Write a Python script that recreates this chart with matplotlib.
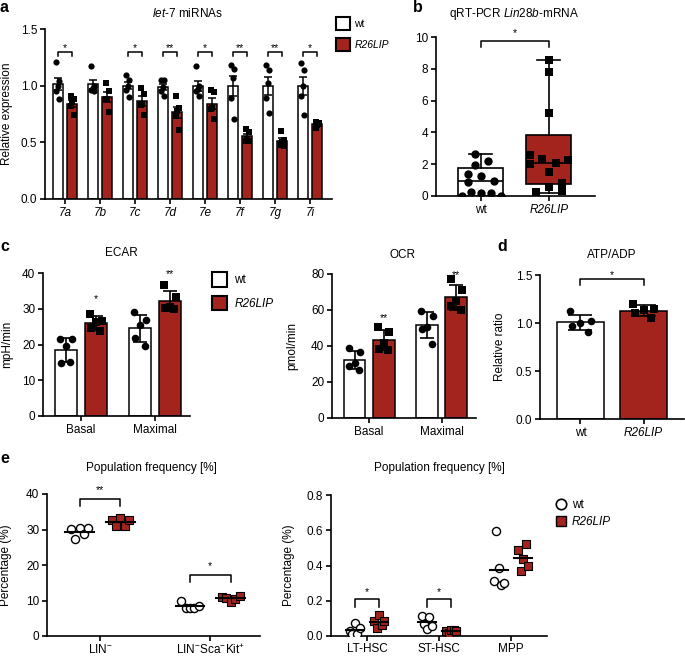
import numpy as np
import matplotlib
matplotlib.use("Agg")
import matplotlib.pyplot as plt
from matplotlib.patches import Patch
from matplotlib.lines import Line2D

plt.rcParams['font.family'] = ['Liberation Sans', 'DejaVu Sans']
plt.rcParams['mathtext.fontset'] = 'custom'
plt.rcParams['mathtext.rm'] = 'Liberation Sans'
plt.rcParams['mathtext.it'] = 'Liberation Sans:italic'
plt.rcParams['font.size'] = 8.5

RED = '#a3231d'
FS = 8.5

# ---- data ----
# a: let-7 miRNAs, relative expression
mirnas = ['7a', '7b', '7c', '7d', '7e', '7f', '7g', '7i']
let7_wt = [[1.21, 1.04, 1.00, 0.95, 0.88],
           [1.17, 1.00, 0.98, 0.96, 0.95],
           [1.09, 1.05, 1.00, 0.96, 0.90],
           [1.05, 1.05, 0.99, 0.95, 0.91],
           [1.17, 1.00, 0.97, 0.95, 0.91],
           [1.18, 1.15, 1.07, 0.89, 0.71],
           [1.18, 1.14, 1.02, 0.89, 0.76],
           [1.20, 1.14, 1.00, 0.91, 0.74]]
let7_lip = [[0.91, 0.88, 0.86, 0.82, 0.74],
            [1.02, 0.95, 0.88, 0.88, 0.77],
            [0.98, 0.93, 0.84, 0.83, 0.74],
            [0.91, 0.80, 0.78, 0.73, 0.61],
            [0.96, 0.94, 0.80, 0.79, 0.71],
            [0.62, 0.59, 0.53, 0.51, 0.51],
            [0.60, 0.52, 0.50, 0.48, 0.47],
            [0.68, 0.66, 0.65, 0.63, 0.67]]
let7_sig = ['*', '', '*', '**', '*', '**', '**', '*']

# b: Lin28b mRNA box plot
box_groups = ['wt', 'R26LIP']
box_lo = [0.0, 0.21]
box_q1 = [0.03, 0.74]
box_med = [0.95, 2.06]
box_q3 = [1.75, 3.84]
box_hi = [2.63, 8.57]
lin28_wt = [2.63, 2.23, 1.93, 1.37, 1.26, 0.97, 0.90, 0.02, 0.23, 0.17, 0.17, 0.02]
lin28_wt_dx = [-0.09, 0.10, -0.09, -0.19, 0.0, 0.19, -0.19, -0.28, -0.15, 0.0, 0.15, 0.29]
lin28_lip = [8.57, 7.77, 5.20, 2.58, 2.02, 2.31, 2.06, 2.27, 1.49, 0.59, 0.84, 0.23, 0.32]
lin28_lip_dx = [0.0, 0.0, 0.0, -0.28, -0.28, -0.10, 0.10, 0.28, 0.0, 0.0, 0.19, -0.19, 0.19]

# c: Seahorse
conditions = ['Basal', 'Maximal']
ecar_wt = [[21.4, 21.4, 19.5, 14.7, 15.2], [29.1, 26.8, 25.4, 21.9, 19.5]]
ecar_lip = [[28.6, 26.6, 26.2, 24.6, 23.7], [36.7, 33.3, 30.6, 30.3, 29.8]]
ecar_sig = ['*', '**']
ocr_wt = [[38.9, 36.5, 30.6, 29.1, 26.9], [59.6, 56.9, 50.4, 49.4, 41.0]]
ocr_lip = [[50.4, 47.6, 41.7, 38.5, 38.0], [77.0, 71.0, 65.0, 62.0, 60.0]]
ocr_sig = ['**', '**']

# d: ATP/ADP
atp_wt = [1.13, 1.02, 1.00, 0.97, 0.91]
atp_lip = [1.20, 1.15, 1.14, 1.10, 1.05]

# e: population frequency
pop_left = ['LIN$^{-}$', 'LIN$^{-}$Sca$^{-}$Kit$^{+}$']
pop_left_wt = [[30.1, 27.3, 30.3, 28.7, 30.3], [9.9, 7.9, 7.9, 7.9, 8.5]]
pop_left_lip = [[32.6, 30.9, 33.3, 30.9, 32.7], [11.1, 10.8, 9.7, 10.5, 11.3]]
pop_left_sig = ['**', '*']
pop_right = ['LT-HSC', 'ST-HSC', 'MPP']
pop_right_wt = [[0.028, 0.012, 0.074, 0.009, 0.047],
                [0.115, 0.069, 0.037, 0.108, 0.056],
                [0.311, 0.595, 0.385, 0.292, 0.298]]
pop_right_lip = [[0.084, 0.043, 0.121, 0.065, 0.084],
                 [0.028, 0.019, 0.032, 0.032, 0.030],
                 [0.487, 0.368, 0.437, 0.521, 0.400]]
pop_right_sig = ['*', '*', '']

jit5 = np.array([-0.08, 0.08, 0.0, -0.07, 0.06])
jit_e = np.array([-0.08, -0.04, 0.0, 0.04, 0.08])

# ---- figure ----
W, H = 685, 657
fig = plt.figure(figsize=(W / 100, H / 100), dpi=100)


def px_axes(l, t, r, b):
    return fig.add_axes([l / W, 1 - b / H, (r - l) / W, (b - t) / H])


def ftext(x, y, s, **kw):
    fig.text(x / W, 1 - y / H, s, **kw)


def style(ax):
    for s in ['top', 'right']:
        ax.spines[s].set_visible(False)
    for s in ['left', 'bottom']:
        ax.spines[s].set_linewidth(1.2)
    ax.tick_params(direction='out', length=3.5, width=1.2, labelsize=FS, pad=2)


def ylab(ax, text, dx_px):
    ax.set_ylabel(text, fontsize=FS)
    w = ax.get_position().width * W
    ax.yaxis.set_label_coords(-dx_px / w, 0.5)


def bracket(ax, x1, x2, y0, y1, star, ys):
    ax.plot([x1, x1, x2, x2], [y0, y1, y1, y0], color='k', lw=1.1, clip_on=False)
    ax.text((x1 + x2) / 2, ys, star, ha='center', va='center', fontsize=7.5)


panel_kw = dict(fontsize=11.5, fontweight='bold')

# ---- a ----
ax = px_axes(45, 29, 332, 199)
style(ax)
x = np.arange(len(mirnas))
m_wt = [np.mean(v) for v in let7_wt]
m_lip = [np.mean(v) for v in let7_lip]
e_wt = [np.std(v, ddof=1) / np.sqrt(len(v)) for v in let7_wt]
e_lip = [np.std(v, ddof=1) / np.sqrt(len(v)) for v in let7_lip]
ax.bar(x - 0.21, m_wt, 0.28, color='white', edgecolor='k', lw=1.1, zorder=1)
ax.bar(x + 0.21, m_lip, 0.28, color=RED, edgecolor='k', lw=1.1, zorder=1)
ax.errorbar(x - 0.21, m_wt, yerr=e_wt, fmt='none', ecolor='k', elinewidth=1.1, capsize=2.8, capthick=1.1, zorder=2)
ax.errorbar(x + 0.21, m_lip, yerr=e_lip, fmt='none', ecolor='k', elinewidth=1.1, capsize=2.8, capthick=1.1, zorder=2)
for i in range(len(mirnas)):
    ax.scatter(x[i] - 0.21 + jit5 * 0.6, let7_wt[i], s=20, color='k', marker='o', zorder=3, lw=0)
    ax.scatter(x[i] + 0.21 + jit5 * 0.6, let7_lip[i], s=18, color='k', marker='s', zorder=3, lw=0)
    if let7_sig[i]:
        bracket(ax, x[i] - 0.21, x[i] + 0.21, 1.265, 1.30, let7_sig[i], 1.335)
ax.set_xlim(-0.57, 7.63)
ax.set_ylim(0, 1.5)
ax.set_yticks([0, 0.5, 1.0, 1.5])
ax.set_yticklabels(['0.0', '0.5', '1.0', '1.5'])
ax.set_xticks(x)
ax.set_xticklabels(mirnas, fontstyle='italic')
ylab(ax, 'Relative expression', 32)
ftext(187, 17, r'$\mathit{let}$-$\mathit{7}$ miRNAs', ha='center', va='baseline', fontsize=FS)
ftext(0, 12, 'a', ha='left', va='baseline', **panel_kw)
fig.legend(handles=[Patch(facecolor='white', edgecolor='k', lw=1.5, label='wt'),
                    Patch(facecolor=RED, edgecolor='k', lw=1.5, label='R26LIP')],
           loc='upper left', bbox_to_anchor=(336 / W, 1 - 17 / H), frameon=False,
           handlelength=1.3, handleheight=1.55, labelspacing=0.75, handletextpad=0.45,
           borderpad=0, borderaxespad=0, fontsize=7.5)
fig.legends[-1].get_texts()[1].set_fontstyle('italic')

# ---- b ----
ax = px_axes(436, 37, 595, 196)
style(ax)
stats = [dict(med=box_med[i], q1=box_q1[i], q3=box_q3[i], whislo=box_lo[i],
              whishi=box_hi[i], fliers=[]) for i in range(2)]
bp = ax.bxp(stats, positions=[0, 1], widths=0.66, patch_artist=True, showfliers=False,
            boxprops=dict(lw=1.2, edgecolor='k'), medianprops=dict(color='k', lw=1.2),
            whiskerprops=dict(color='k', lw=1.2), capprops=dict(color='k', lw=1.2),
            capwidths=0.34)
bp['boxes'][0].set_facecolor('white')
bp['boxes'][1].set_facecolor(RED)
ax.scatter(np.array(lin28_wt_dx), lin28_wt, s=36, color='k', marker='o', lw=0, zorder=4)
ax.scatter(1 + np.array(lin28_lip_dx), lin28_lip, s=34, color='k', marker='s', lw=0, zorder=4)
bracket(ax, 0, 1, 9.35, 9.73, '*', 10.25)
ax.set_xlim(-0.66, 1.68)
ax.set_ylim(0, 10)
ax.set_yticks(range(0, 11, 2))
ax.set_xticks([0, 1])
ax.set_xticklabels(box_groups)
ax.get_xticklabels()[1].set_fontstyle('italic')
ftext(514, 17, r'qRT-PCR $\mathit{Lin28b}$-mRNA', ha='center', va='baseline', fontsize=FS)
ftext(413, 12, 'b', ha='left', va='baseline', **panel_kw)


# ---- c ----
def seahorse(ax, wt, lip, sig, star_y, ymax, yticks):
    style(ax)
    xc = np.arange(len(conditions))
    for i in range(len(conditions)):
        for off, vals, fc, mk in [(-0.2, wt[i], 'white', 'o'), (0.2, lip[i], RED, 's')]:
            ax.bar(xc[i] + off, np.mean(vals), 0.3, color=fc, edgecolor='k', lw=1.1, zorder=1)
            ax.errorbar(xc[i] + off, np.mean(vals), yerr=np.std(vals, ddof=1), fmt='none',
                        ecolor='k', elinewidth=1.2, capsize=5.2, capthick=1.2, zorder=2)
            ax.scatter(xc[i] + off + jit5, vals, s=30, color='k', marker=mk, lw=0, zorder=3)
        ax.text(xc[i] + 0.2, star_y[i], sig[i], ha='center', va='center', fontsize=7.5)
    ax.set_xlim(-0.51, 1.47)
    ax.set_ylim(0, ymax)
    ax.set_yticks(yticks)
    ax.set_xticks(xc)
    ax.set_xticklabels(conditions)


ax = px_axes(43, 273, 190, 416)
seahorse(ax, ecar_wt, ecar_lip, ecar_sig, [32.8, 39.6], 40, [0, 10, 20, 30, 40])
ylab(ax, 'mpH/min', 30)
ftext(121, 256, 'ECAR', ha='center', va='baseline', fontsize=FS)
ftext(0, 251, 'c', ha='left', va='baseline', **panel_kw)
fig.legend(handles=[Patch(facecolor='white', edgecolor='k', lw=1.5, label='wt'),
                    Patch(facecolor=RED, edgecolor='k', lw=1.5, label='R26LIP')],
           loc='upper left', bbox_to_anchor=(212 / W, 1 - 272 / H), frameon=False,
           handlelength=1.3, handleheight=1.55, labelspacing=0.75, handletextpad=0.6,
           borderpad=0, borderaxespad=0, fontsize=FS)
fig.legends[-1].get_texts()[1].set_fontstyle('italic')

ax = px_axes(332, 274, 476, 418)
seahorse(ax, ocr_wt, ocr_lip, ocr_sig, [55.5, 79.5], 80, [0, 20, 40, 60, 80])
ylab(ax, 'pmol/min', 34)
ftext(403, 258, 'OCR', ha='center', va='baseline', fontsize=FS)

# ---- d ----
ax = px_axes(540, 275, 684, 419)
style(ax)
for xi, vals, fc, mk in [(0, atp_wt, 'white', 'o'), (1, atp_lip, RED, 's')]:
    ax.bar(xi, np.mean(vals), 0.75, color=fc, edgecolor='k', lw=1.1, zorder=1)
    ax.errorbar(xi, np.mean(vals), yerr=np.std(vals, ddof=1), fmt='none', ecolor='k',
                elinewidth=1.2, capsize=8.5, capthick=1.2, zorder=2)
    ax.scatter(xi + jit5 * 2, vals, s=30, color='k', marker=mk, lw=0, zorder=3)
bracket(ax, 0, 1, 1.40, 1.455, '*', 1.50)
ax.set_xlim(-0.64, 1.64)
ax.set_ylim(0, 1.5)
ax.set_yticks([0, 0.5, 1.0, 1.5])
ax.set_yticklabels(['0.0', '0.5', '1.0', '1.5'])
ax.set_xticks([0, 1])
ax.set_xticklabels(box_groups)
ax.get_xticklabels()[1].set_fontstyle('italic')
ylab(ax, 'Relative ratio', 34)
ftext(612, 258, 'ATP/ADP', ha='center', va='baseline', fontsize=FS)
ftext(497, 251, 'd', ha='left', va='baseline', **panel_kw)


# ---- e ----
def dotplot(ax, cats, wt, lip, off, jscale, lw_half):
    style(ax)
    xc = np.arange(len(cats))
    for i in range(len(cats)):
        ax.scatter(xc[i] - off + jit_e * jscale, wt[i], s=34, facecolor='white', edgecolor='k',
                   lw=1.0, marker='o', zorder=3)
        ax.scatter(xc[i] + off + jit_e * jscale, lip[i], s=34, facecolor=RED, edgecolor='k',
                   lw=0.8, marker='s', zorder=3)
        for c, vals in [(xc[i] - off, wt[i]), (xc[i] + off, lip[i])]:
            ax.plot([c - lw_half, c + lw_half], [np.mean(vals)] * 2, color='k', lw=1.5, zorder=4)
    ax.set_xticks(xc)
    ax.set_xticklabels(cats)
    ax.tick_params(axis='x', pad=1.5)
    return xc


ax = px_axes(47, 494, 260, 636)
xc = dotplot(ax, pop_left, pop_left_wt, pop_left_lip, 0.185, 1.0, 0.13)
bracket(ax, xc[0] - 0.185, xc[0] + 0.185, 36.6, 38.6, pop_left_sig[0], 41.0)
bracket(ax, xc[1] - 0.185, xc[1] + 0.185, 15.1, 17.3, pop_left_sig[1], 19.6)
ax.set_xlim(-0.48, 1.45)
ax.set_ylim(0, 40)
ax.set_yticks([0, 10, 20, 30, 40])
ylab(ax, 'Percentage (%)', 35)
ftext(151, 471, 'Population frequency [%]', ha='center', va='baseline', fontsize=FS)
ftext(0, 463, 'e', ha='left', va='baseline', **panel_kw)

ax = px_axes(331, 495, 547, 636)
xc = dotplot(ax, pop_right, pop_right_wt, pop_right_lip, 0.17, 0.85, 0.125)
for i in range(len(pop_right)):
    if pop_right_sig[i]:
        bracket(ax, xc[i] - 0.17, xc[i] + 0.17, 0.167, 0.208, pop_right_sig[i], 0.25)
ax.set_xlim(-0.5, 2.5)
ax.set_ylim(0, 0.8)
ax.set_yticks([0, 0.2, 0.4, 0.6, 0.8])
ax.set_yticklabels(['0.0', '0.2', '0.4', '0.6', '0.8'])
ylab(ax, 'Percentage (%)', 36)
ftext(439, 471, 'Population frequency [%]', ha='center', va='baseline', fontsize=FS)
fig.legend(handles=[Line2D([], [], ls='none', marker='o', ms=7.5, mfc='white', mec='k', mew=1.2, label='wt'),
                    Line2D([], [], ls='none', marker='s', ms=7.5, mfc=RED, mec='k', mew=1.0, label='R26LIP')],
           loc='upper left', bbox_to_anchor=(555 / W, 1 - 499 / H), frameon=False,
           handlelength=1.0, labelspacing=0.45, handletextpad=0.4,
           borderpad=0, borderaxespad=0, fontsize=FS)
fig.legends[-1].get_texts()[1].set_fontstyle('italic')

fig.savefig('out.png', dpi=100)
